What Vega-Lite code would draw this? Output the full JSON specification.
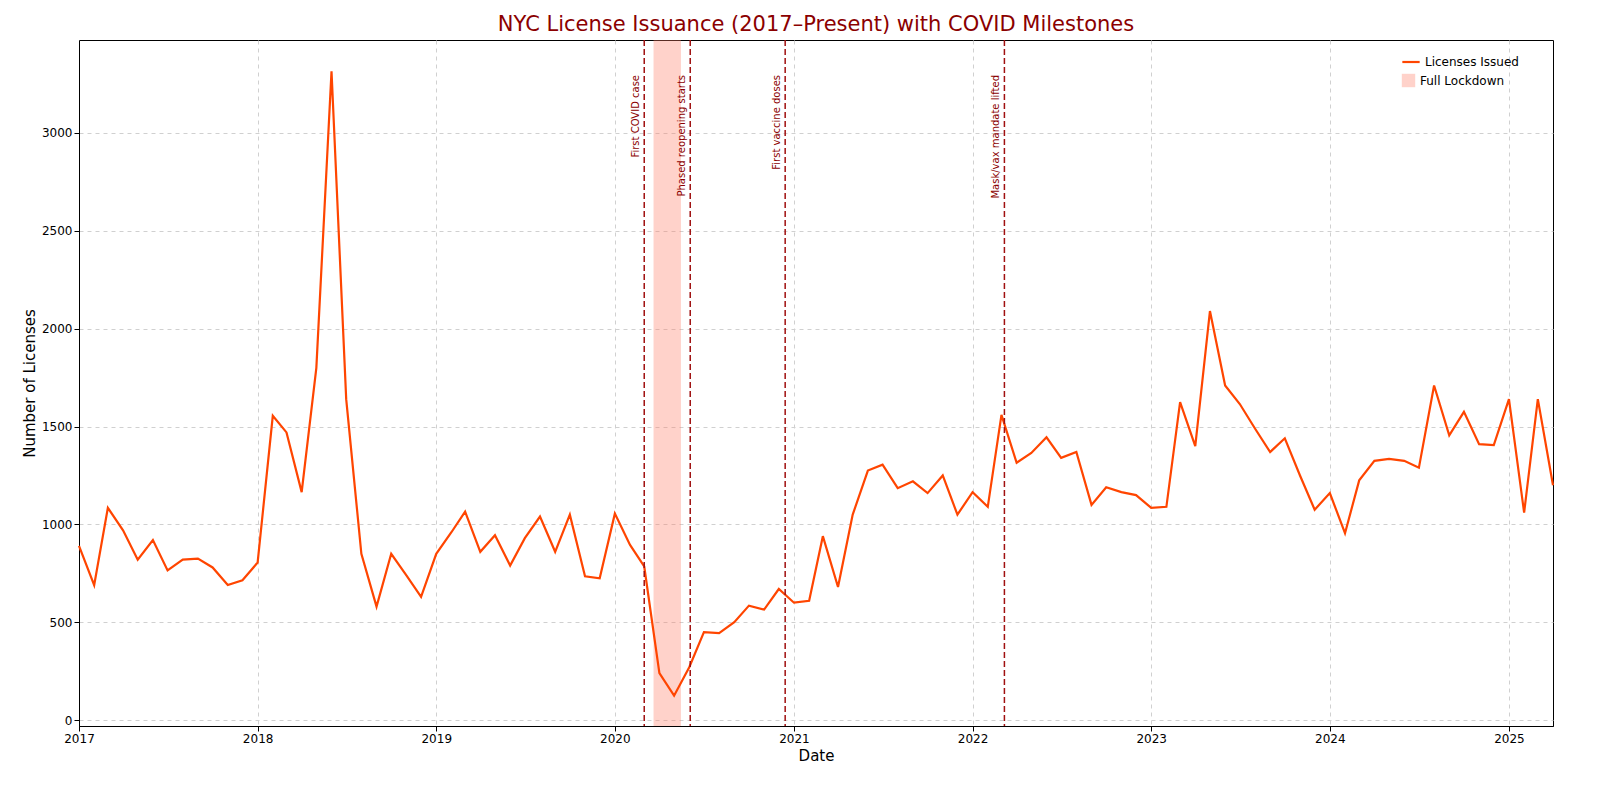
{
  "$schema": "https://vega.github.io/schema/vega-lite/v6.json",
  "width": 1474,
  "height": 686,
  "autosize": {"type": "none"},
  "padding": {"left": 79, "top": 40, "right": 47, "bottom": 74},
  "background": "white",
  "title": {"text": "NYC License Issuance (2017–Present) with COVID Milestones", "color": "#8B0000", "fontSize": 21, "font": "DejaVu Sans", "fontWeight": "normal", "offset": 4},
  "config": {
    "font": "DejaVu Sans",
    "view": {"stroke": "black"},
    "axis": {"labelFont": "DejaVu Sans", "labelFontSize": 12, "labelColor": "black", "titleFont": "DejaVu Sans", "titleFontSize": 15, "titleFontWeight": "normal", "titleColor": "black", "gridDash": [4, 4], "gridColor": "#d0d0d0", "domainColor": "black", "tickColor": "black"},
    "legend": {"labelFont": "DejaVu Sans", "labelFontSize": 12}
  },
  "datasets": {
    "licenses": [
      {"date": "2017-01-01", "count": 890}, {"date": "2017-02-01", "count": 690}, {"date": "2017-03-01", "count": 1085}, {"date": "2017-04-01", "count": 970},
      {"date": "2017-05-01", "count": 820}, {"date": "2017-06-01", "count": 920}, {"date": "2017-07-01", "count": 765}, {"date": "2017-08-01", "count": 820},
      {"date": "2017-09-01", "count": 825}, {"date": "2017-10-01", "count": 780}, {"date": "2017-11-01", "count": 690}, {"date": "2017-12-01", "count": 715},
      {"date": "2018-01-01", "count": 805}, {"date": "2018-02-01", "count": 1555}, {"date": "2018-03-01", "count": 1470}, {"date": "2018-04-01", "count": 1165},
      {"date": "2018-05-01", "count": 1800}, {"date": "2018-06-01", "count": 3315}, {"date": "2018-07-01", "count": 1640}, {"date": "2018-08-01", "count": 850},
      {"date": "2018-09-01", "count": 580}, {"date": "2018-10-01", "count": 850}, {"date": "2018-11-01", "count": 740}, {"date": "2018-12-01", "count": 630},
      {"date": "2019-01-01", "count": 850}, {"date": "2019-02-01", "count": 960}, {"date": "2019-03-01", "count": 1065}, {"date": "2019-04-01", "count": 860},
      {"date": "2019-05-01", "count": 945}, {"date": "2019-06-01", "count": 790}, {"date": "2019-07-01", "count": 930}, {"date": "2019-08-01", "count": 1040},
      {"date": "2019-09-01", "count": 860}, {"date": "2019-10-01", "count": 1050}, {"date": "2019-11-01", "count": 735}, {"date": "2019-12-01", "count": 725},
      {"date": "2020-01-01", "count": 1055}, {"date": "2020-02-01", "count": 895}, {"date": "2020-03-01", "count": 785}, {"date": "2020-04-01", "count": 240},
      {"date": "2020-05-01", "count": 125}, {"date": "2020-06-01", "count": 270}, {"date": "2020-07-01", "count": 450}, {"date": "2020-08-01", "count": 445},
      {"date": "2020-09-01", "count": 500}, {"date": "2020-10-01", "count": 585}, {"date": "2020-11-01", "count": 565}, {"date": "2020-12-01", "count": 670},
      {"date": "2021-01-01", "count": 600}, {"date": "2021-02-01", "count": 610}, {"date": "2021-03-01", "count": 940}, {"date": "2021-04-01", "count": 680},
      {"date": "2021-05-01", "count": 1050}, {"date": "2021-06-01", "count": 1275}, {"date": "2021-07-01", "count": 1305}, {"date": "2021-08-01", "count": 1185},
      {"date": "2021-09-01", "count": 1220}, {"date": "2021-10-01", "count": 1160}, {"date": "2021-11-01", "count": 1250}, {"date": "2021-12-01", "count": 1050},
      {"date": "2022-01-01", "count": 1165}, {"date": "2022-02-01", "count": 1090}, {"date": "2022-03-01", "count": 1560}, {"date": "2022-04-01", "count": 1315},
      {"date": "2022-05-01", "count": 1365}, {"date": "2022-06-01", "count": 1445}, {"date": "2022-07-01", "count": 1340}, {"date": "2022-08-01", "count": 1370},
      {"date": "2022-09-01", "count": 1100}, {"date": "2022-10-01", "count": 1190}, {"date": "2022-11-01", "count": 1165}, {"date": "2022-12-01", "count": 1150},
      {"date": "2023-01-01", "count": 1085}, {"date": "2023-02-01", "count": 1090}, {"date": "2023-03-01", "count": 1625}, {"date": "2023-04-01", "count": 1400},
      {"date": "2023-05-01", "count": 2090}, {"date": "2023-06-01", "count": 1710}, {"date": "2023-07-01", "count": 1615}, {"date": "2023-08-01", "count": 1490},
      {"date": "2023-09-01", "count": 1370}, {"date": "2023-10-01", "count": 1440}, {"date": "2023-11-01", "count": 1250}, {"date": "2023-12-01", "count": 1075},
      {"date": "2024-01-01", "count": 1160}, {"date": "2024-02-01", "count": 955}, {"date": "2024-03-01", "count": 1225}, {"date": "2024-04-01", "count": 1325},
      {"date": "2024-05-01", "count": 1335}, {"date": "2024-06-01", "count": 1325}, {"date": "2024-07-01", "count": 1290}, {"date": "2024-08-01", "count": 1710},
      {"date": "2024-09-01", "count": 1455}, {"date": "2024-10-01", "count": 1575}, {"date": "2024-11-01", "count": 1410}, {"date": "2024-12-01", "count": 1405},
      {"date": "2025-01-01", "count": 1640}, {"date": "2025-02-01", "count": 1060}, {"date": "2025-03-01", "count": 1640}, {"date": "2025-04-01", "count": 1200}
    ],
    "milestones": [
      {"date": "2020-03-01", "label": "First COVID case", "y": 3470},
      {"date": "2020-06-03", "label": "Phased reopening starts", "y": 3470},
      {"date": "2020-12-14", "label": "First vaccine doses", "y": 3470},
      {"date": "2022-03-07", "label": "Mask/vax mandate lifted", "y": 3470}
    ],
    "lockdown": [
      {"start": "2020-03-20", "end": "2020-05-15", "name": "Full Lockdown"}
    ]
  },
  "layer": [
    {
      "data": {"name": "lockdown"},
      "mark": {"type": "rect", "opacity": 0.35},
      "encoding": {
        "x": {"field": "start", "type": "temporal", "scale": {"domain": ["2017-01-01", "2025-04-01"]}},
        "x2": {"field": "end"},
        "fill": {"field": "name", "type": "nominal", "scale": {"range": ["#ff7f66"]}, "legend": {"title": null, "orient": "none", "legendX": 1318, "legendY": 29, "symbolType": "square", "symbolSize": 180, "symbolOpacity": 0.35, "padding": 4}}
      }
    },
    {
      "data": {"name": "licenses"},
      "mark": {"type": "line", "strokeWidth": 2.2},
      "encoding": {
        "x": {"field": "date", "type": "temporal", "title": "Date", "axis": {"format": "%Y", "tickCount": "year", "grid": true, "labelFlush": false}},
        "y": {"field": "count", "type": "quantitative", "title": "Number of Licenses", "scale": {"domain": [-30, 3475], "nice": false}, "axis": {"values": [0, 500, 1000, 1500, 2000, 2500, 3000], "format": "d", "grid": true}},
        "stroke": {"datum": "Licenses Issued", "type": "nominal", "scale": {"range": ["#FF4500"]}, "legend": {"title": null, "orient": "none", "legendX": 1318, "legendY": 8, "symbolType": "stroke", "symbolStrokeWidth": 2.2, "symbolSize": 300, "padding": 4}}
      }
    },
    {
      "data": {"name": "milestones"},
      "mark": {"type": "rule", "color": "#a01010", "strokeDash": [6, 3], "strokeWidth": 1.5},
      "encoding": {"x": {"field": "date", "type": "temporal"}}
    },
    {
      "data": {"name": "milestones"},
      "mark": {"type": "text", "angle": 270, "align": "right", "baseline": "bottom", "dx": -34, "dy": -3, "fontSize": 10, "color": "#8B0000"},
      "encoding": {
        "x": {"field": "date", "type": "temporal"},
        "y": {"field": "y", "type": "quantitative"},
        "text": {"field": "label"}
      }
    }
  ]
}
